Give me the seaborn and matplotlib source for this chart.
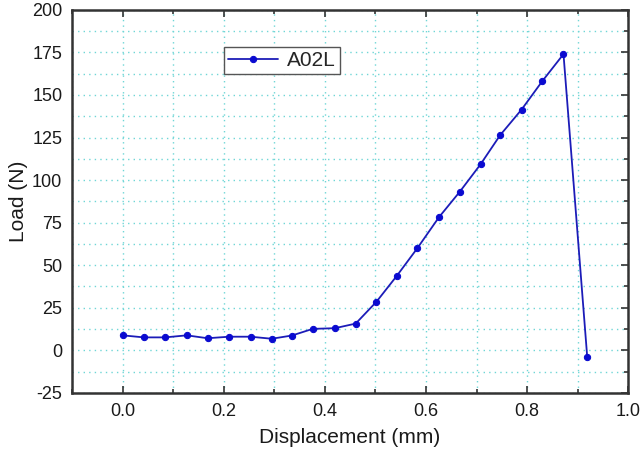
import matplotlib
matplotlib.use('Agg')
import numpy as np
import pandas as pd
import matplotlib.pyplot as plt
import seaborn as sns
from matplotlib.ticker import MultipleLocator

# displacement (mm) and load (N)
displacement = [0.000, 0.042, 0.084, 0.127, 0.168, 0.211, 0.253, 0.295, 0.335,
                0.376, 0.420, 0.461, 0.502, 0.542, 0.583, 0.626, 0.667, 0.708,
                0.747, 0.789, 0.830, 0.872, 0.919]
load = [8.8, 7.6, 7.6, 8.8, 7.1, 8.0, 8.0, 6.8, 8.7,
        12.6, 13.0, 15.7, 28.5, 43.6, 60.0, 78.3, 93.2, 109.3,
        126.5, 141.4, 158.1, 174.0, -4.2]
series_name = "A02L"

df = pd.DataFrame({"Displacement (mm)": displacement, "Load (N)": load,
                   "sample": series_name})

sns.set_style("white")
plt.rcParams['font.family'] = ['Liberation Sans', 'DejaVu Sans']
plt.rcParams['axes.unicode_minus'] = False

fig = plt.figure(figsize=(6.43, 4.49), dpi=100)
ax = fig.add_axes([0.112, 0.125, 0.865, 0.853])

sns.lineplot(data=df, x="Displacement (mm)", y="Load (N)", hue="sample",
             palette=["#1c1cb8"], marker="o", markersize=4.5,
             markeredgecolor="#0a0ad0", markerfacecolor="#0a0ad0",
             linewidth=1.3, sort=False, ax=ax)

ax.set_xlim(-0.1, 1.0)
ax.set_ylim(-25, 200)
ax.xaxis.set_major_locator(MultipleLocator(0.2))
ax.xaxis.set_minor_locator(MultipleLocator(0.1))
ax.yaxis.set_major_locator(MultipleLocator(25))
ax.yaxis.set_minor_locator(MultipleLocator(12.5))
ax.set_xticks([0.0, 0.2, 0.4, 0.6, 0.8, 1.0])
ax.set_xticklabels(["0.0", "0.2", "0.4", "0.6", "0.8", "1.0"])

ax.grid(True, which="both", color="#6fd6d6", linestyle=(0, (1, 3)), linewidth=1.0)
ax.tick_params(which="both", direction="in", top=True, right=True,
               colors="#333333", labelcolor="#1a1a1a", labelsize=13, width=1.2)
ax.tick_params(which="major", length=5, pad=7)
ax.tick_params(which="minor", length=3)
ax.tick_params(axis="x", which="both", top=True, bottom=True)

for sp in ax.spines.values():
    sp.set_visible(True)
    sp.set_color("#333333")
    sp.set_linewidth(1.8)

ax.set_xlabel("Displacement (mm)", fontsize=15, color="#1a1a1a", labelpad=6)
ax.set_ylabel("Load (N)", fontsize=15, color="#1a1a1a", labelpad=3)

leg = ax.legend(loc="upper left", bbox_to_anchor=(0.255, 0.93), fontsize=15,
                fancybox=False, framealpha=1, edgecolor="#555555",
                handlelength=2.4, handletextpad=0.4, borderpad=0.2)
leg.get_frame().set_linewidth(1.0)

fig.savefig("out.png", dpi=100)
